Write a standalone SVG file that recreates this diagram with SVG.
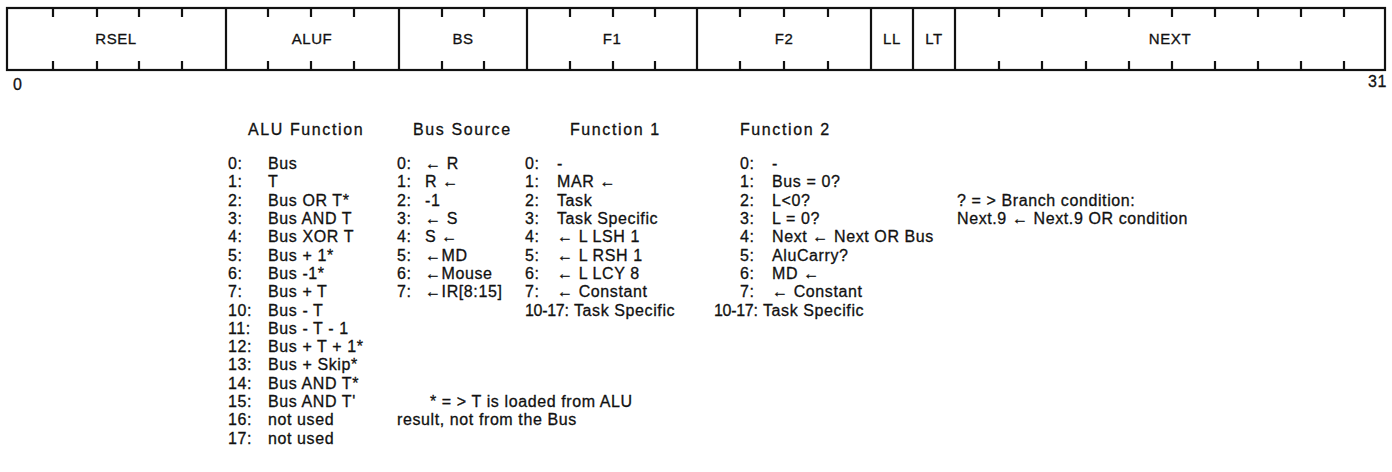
<svg xmlns="http://www.w3.org/2000/svg" width="1392" height="472" viewBox="0 0 1392 472">
<style>
text{font-family:"Liberation Sans",Arial,sans-serif;font-size:16px;fill:#111;stroke:#111;stroke-width:0.3px;letter-spacing:0.6px}
.f{font-size:15px;text-anchor:middle}
.h{letter-spacing:1.6px}
.r{letter-spacing:-0.3px}
.ln{stroke:#111;stroke-width:2.2;fill:none}
.tk{stroke:#111;stroke-width:2.2}
</style>
<g id="bar">
<rect class="ln" x="7" y="8" width="1378" height="62"/>
<path class="ln" d="M226 8V70M399 8V70M527 8V70M697 8V70M871 8V70M913 8V70M955 8V70"/>
<path class="tk" d="M53 8v9M97 8v9M139 8v9M182 8v9M268 8v9M311 8v9M354 8v9M442 8v9M484 8v9M570 8v9M613 8v9M655 8v9M740 8v9M784 8v9M828 8v9M999 8v9M1042 8v9M1086 8v9M1129 8v9M1172 8v9M1215 8v9M1258 8v9M1301 8v9M1344 8v9"/>
<path class="tk" d="M53 70v-9M97 70v-9M139 70v-9M182 70v-9M268 70v-9M311 70v-9M354 70v-9M442 70v-9M484 70v-9M570 70v-9M613 70v-9M655 70v-9M740 70v-9M784 70v-9M828 70v-9M999 70v-9M1042 70v-9M1086 70v-9M1129 70v-9M1172 70v-9M1215 70v-9M1258 70v-9M1301 70v-9M1344 70v-9"/>
<text class="f" x="116" y="44">RSEL</text>
<text class="f" x="312" y="44">ALUF</text>
<text class="f" x="463" y="44">BS</text>
<text class="f" x="612" y="44">F1</text>
<text class="f" x="784" y="44">F2</text>
<text class="f" x="892" y="44">LL</text>
<text class="f" x="934" y="44">LT</text>
<text class="f" x="1170" y="44">NEXT</text>
<text x="13" y="90">0</text>
<text x="1368" y="87">31</text>
</g>
<g id="alu">
<text class="h" x="248" y="135">ALU Function</text>
<text x="228" y="169">0:</text><text x="268" y="169">Bus</text>
<text x="228" y="187">1:</text><text x="268" y="187">T</text>
<text x="228" y="206">2:</text><text x="268" y="206">Bus OR T*</text>
<text x="228" y="224">3:</text><text x="268" y="224">Bus AND T</text>
<text x="228" y="242">4:</text><text x="268" y="242">Bus XOR T</text>
<text x="228" y="261">5:</text><text x="268" y="261">Bus  +  1*</text>
<text x="228" y="279">6:</text><text x="268" y="279">Bus -1*</text>
<text x="228" y="297">7:</text><text x="268" y="297">Bus  +  T</text>
<text x="228" y="316">10:</text><text x="268" y="316">Bus - T</text>
<text x="228" y="334">11:</text><text x="268" y="334">Bus - T - 1</text>
<text x="228" y="352">12:</text><text x="268" y="352">Bus  +  T  +  1*</text>
<text x="228" y="370">13:</text><text x="268" y="370">Bus  +  Skip*</text>
<text x="228" y="389">14:</text><text x="268" y="389">Bus AND T*</text>
<text x="228" y="407">15:</text><text x="268" y="407">Bus AND T'</text>
<text x="228" y="425">16:</text><text x="268" y="425">not used</text>
<text x="228" y="444">17:</text><text x="268" y="444">not used</text>
</g>
<g id="bs">
<text class="h" x="413" y="135">Bus Source</text>
<text x="397" y="169">0:</text><text x="425" y="169">← R</text>
<text x="397" y="187">1:</text><text x="425" y="187">R ←</text>
<text x="397" y="206">2:</text><text x="425" y="206">-1</text>
<text x="397" y="224">3:</text><text x="425" y="224">← S</text>
<text x="397" y="242">4:</text><text x="425" y="242">S ←</text>
<text x="397" y="261">5:</text><text x="425" y="261">←MD</text>
<text x="397" y="279">6:</text><text x="425" y="279">←Mouse</text>
<text x="397" y="297">7:</text><text x="425" y="297">←IR[8:15]</text>
<text x="430" y="407">*  = &gt; T is loaded from ALU</text>
<text x="397" y="425">result, not from the Bus</text>
</g>
<g id="f1">
<text class="h" x="570" y="135">Function 1</text>
<text x="525" y="169">0:</text><text x="557" y="169">-</text>
<text x="525" y="187">1:</text><text x="557" y="187">MAR ←</text>
<text x="525" y="206">2:</text><text x="557" y="206">Task</text>
<text x="525" y="224">3:</text><text x="557" y="224">Task Specific</text>
<text x="525" y="242">4:</text><text x="557" y="242">← L LSH 1</text>
<text x="525" y="261">5:</text><text x="557" y="261">← L RSH 1</text>
<text x="525" y="279">6:</text><text x="557" y="279">← L LCY 8</text>
<text x="525" y="297">7:</text><text x="557" y="297">← Constant</text>
<text class="r" x="525" y="316">10-17:</text><text x="574" y="316">Task Specific</text>
</g>
<g id="f2">
<text class="h" x="740" y="135">Function 2</text>
<text x="740" y="169">0:</text><text x="772" y="169">-</text>
<text x="740" y="187">1:</text><text x="772" y="187">Bus = 0?</text>
<text x="740" y="206">2:</text><text x="772" y="206">L&lt;0?</text>
<text x="740" y="224">3:</text><text x="772" y="224">L = 0?</text>
<text x="740" y="242">4:</text><text x="772" y="242">Next ← Next OR Bus</text>
<text x="740" y="261">5:</text><text x="772" y="261">AluCarry?</text>
<text x="740" y="279">6:</text><text x="772" y="279">MD ←</text>
<text x="740" y="297">7:</text><text x="772" y="297">← Constant</text>
<text class="r" x="714" y="316">10-17:</text><text x="763" y="316">Task Specific</text>
</g>
<g id="note">
<text x="957" y="206">?  = &gt;  Branch condition:</text>
<text x="957" y="224">Next.9 ← Next.9 OR condition</text>
</g>
</svg>
